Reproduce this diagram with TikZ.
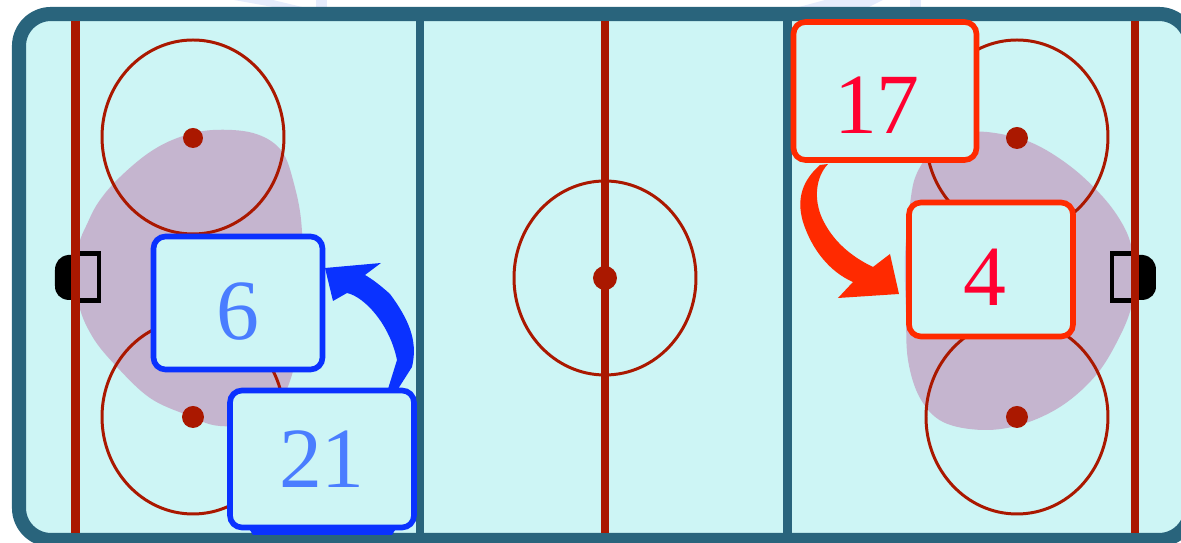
\documentclass[tikz,border=0pt]{standalone}
\usepackage{xcolor}
\usepackage{fontspec}
\setmainfont{Liberation Serif}
\definecolor{iceblue}{HTML}{CDF5F5}
\definecolor{boardblue}{HTML}{29647C}
\definecolor{linered}{HTML}{AA1800}
\definecolor{zonepurple}{HTML}{C5B5CF}
\definecolor{homeblue}{HTML}{0A32FF}
\definecolor{hometext}{HTML}{4A7DFF}
\definecolor{awayred}{HTML}{FF2A00}
\definecolor{awaytext}{HTML}{FF0030}
\definecolor{markpale}{HTML}{E6ECFC}
\begin{document}
\begin{tikzpicture}[x=0.1mm,y=-0.1mm,
  faceoff/.style={draw=linered,line width=0.85pt},
  spot/.style={fill=linered},
  redline/.style={draw=linered,line width=2.3pt},
  blueline/.style={draw=boardblue,line width=2.5pt},
  crease/.style={draw=black,line width=1.3pt},
  homebox/.style={draw=homeblue,fill=iceblue,text=hometext,line width=1.6pt,rounded corners=1.2mm,inner sep=0pt,text depth=0pt,font=\fontsize{24.4}{24.4}\selectfont},
  awaybox/.style={draw=awayred,fill=iceblue,text=awaytext,line width=1.6pt,rounded corners=1.2mm,inner sep=0pt,text depth=0pt,font=\fontsize{24.4}{24.4}\selectfont}]
  \path[use as bounding box,clip] (0,0) rectangle (1181,543);
  \fill[markpale] (234,0) -- (273,0) -- (302,7) -- (273,7) -- cycle;
  \fill[markpale] (316,0) rectangle (327,7);
  \fill[markpale] (799,7) -- (825,0) -- (883,0) -- (869,7) -- cycle;
  \fill[markpale] (910,0) rectangle (921,7);
  \draw[draw=boardblue,fill=iceblue,line width=4pt,rounded corners=3.2mm] (19,14) rectangle (1191,540);
  \fill[zonepurple] plot[smooth cycle,tension=0.6] coordinates {(213,130) (253,133) (280,149) (293,180) (302,232) (300,320) (290,381) (265,420) (220,426) (187,415) (150,398) (117,367) (92,336) (78,300) (78,250) (88,222) (100,200) (120,177) (150,152) (180,137)};
  \fill[zonepurple] plot[smooth cycle,tension=0.6] coordinates {(987,132) (1030,142) (1070,166) (1103,197) (1123,225) (1132,249) (1135,278) (1132,305) (1120,336) (1097,374) (1063,405) (1023,424) (983,430) (943,422) (920,398) (908,360) (906,312) (905,256) (910,204) (917,173) (937,145) (960,135)};
  \draw[faceoff] (193,137) ellipse [x radius=9.1mm,y radius=9.7mm];
  \draw[faceoff] (193,417) ellipse [x radius=9.1mm,y radius=9.7mm];
  \draw[faceoff] (605,278) ellipse [x radius=9.1mm,y radius=9.7mm];
  \draw[faceoff] (1017,137) ellipse [x radius=9.1mm,y radius=9.7mm];
  \draw[faceoff] (1017,417) ellipse [x radius=9.1mm,y radius=9.7mm];
  \fill[spot] (193,138) circle (1mm);
  \fill[spot] (193,417) circle (1.1mm);
  \fill[spot] (605,278) circle (1.2mm);
  \fill[spot] (1017,138) circle (1.1mm);
  \fill[spot] (1017,417) circle (1.1mm);
  \fill[black] (76,255) -- (68,255) .. controls (60,256) and (55,262) .. (55,270) -- (55,286) .. controls (55,294) and (60,299) .. (68,300) -- (76,300) -- cycle;
  \fill[black] (1134,255) -- (1143,255) .. controls (1151,256) and (1156,262) .. (1156,270) -- (1156,286) .. controls (1156,294) and (1151,299) .. (1143,300) -- (1134,300) -- cycle;
  \draw[crease] (75,253.5) -- (99,253.5) -- (99,300.5) -- (75,300.5);
  \draw[crease] (1135,253.5) -- (1112,253.5) -- (1112,300.5) -- (1135,300.5);
  \draw[redline] (75.5,21) -- (75.5,533);
  \draw[redline] (605,21) -- (605,533);
  \draw[redline] (1135,21) -- (1135,533);
  \draw[blueline] (420,21) -- (420,533);
  \draw[blueline] (787.5,21) -- (787.5,533);
  \fill[homeblue] (245,522) -- (400,522) -- (392,535) -- (253,535) -- cycle;
  \node[homebox,minimum width=16.9mm,minimum height=13.3mm,text height=7.4mm] (six) at (238,303) {6};
  \node[homebox,minimum width=18.4mm,minimum height=13.7mm,text height=5.8mm] (twentyone) at (322,459) {21};
  \node[awaybox,minimum width=18.3mm,minimum height=13.8mm,text height=8.6mm] (seventeen) at (885,91) {17\kern1.6mm};
  \node[awaybox,minimum width=16.4mm,minimum height=13.4mm,text height=7.2mm] (four) at (991,269.5) {4\kern1.2mm};
  \fill[homeblue] (398,389) -- (412,367) .. controls (417,345) and (413,325) .. (390,294) .. controls (380,285) and (372,279) .. (365,275) -- (381,263) -- (325,268) -- (333,301) -- (347,293) .. controls (365,297) and (390,325) .. (397,360) -- (388,389) -- cycle;
  \fill[awayred] (828,164) .. controls (815,178) and (814,200) .. (822,218) .. controls (832,240) and (850,256) .. (873,267) -- (890,254) -- (899,294) -- (838,298) -- (853,282) .. controls (830,272) and (812,250) .. (803,222) .. controls (796,198) and (803,180) .. (820,165) -- cycle;
\end{tikzpicture}
\end{document}
